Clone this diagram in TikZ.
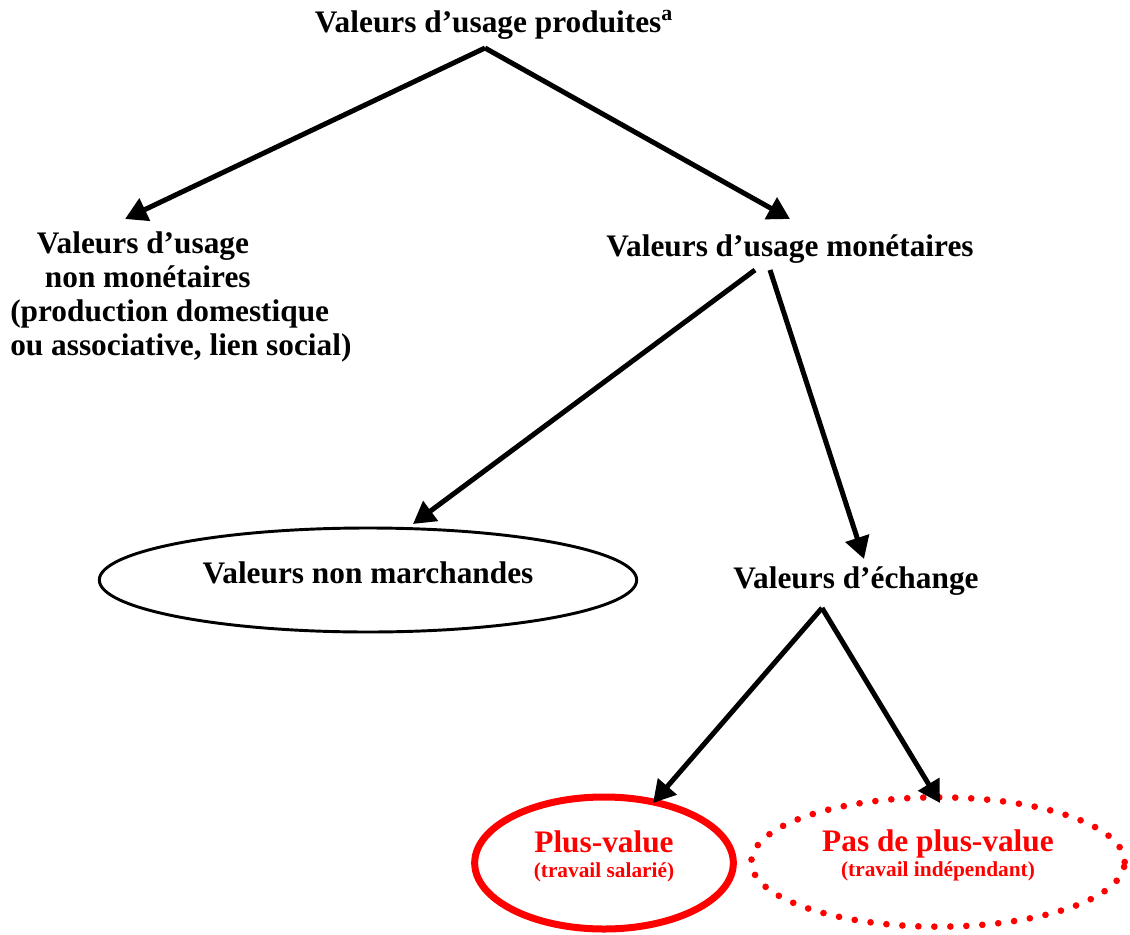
\documentclass[tikz,border=0pt]{standalone}
\usepackage{fontspec}
\setmainfont{Liberation Serif}
\usetikzlibrary{arrows.meta,shapes.geometric}
\begin{document}
\begin{tikzpicture}[x=0.75pt,y=-0.75pt,
  word node/.style={font=\fontsize{23.5}{25.5}\selectfont\bfseries,inner sep=0pt},
  oval node/.style={word node,ellipse,draw,align=center},
  red node/.style={oval node,red,text height=35pt,text depth=14pt},
  arrow line/.style={line width=3.75pt,-{Triangle[length=16.5pt,width=18pt]}}]

  \useasboundingbox (0,0) rectangle (1130,934);

  \node[word node,anchor=base] (1) at (494,33) {Valeurs d’usage produites\textsuperscript{a}};
  \node[word node,anchor=north west,align=left] (2) at (10,231)
    {\hspace*{20pt}Valeurs d’usage\\ \hspace*{26pt}non monétaires\\ (production domestique\\ ou associative, lien social)};
  \node[word node,anchor=base] (3) at (790,256) {Valeurs d’usage monétaires};
  \node[oval node,line width=2.2pt,minimum width=403pt,minimum height=78pt,
    text height=17pt,text depth=12.5pt] (4) at (368,580) {Valeurs non marchandes};
  \node[word node,anchor=base] (5) at (856,588) {Valeurs d’échange};
  \node[red node,line width=5.25pt,minimum width=194pt,minimum height=99pt] (6) at (604,863)
    {Plus-value\\[-7pt]{\fontsize{16}{18}\selectfont (travail salarié)}};
  \node[red node,line width=5pt,line cap=round,dash pattern=on 0pt off 12pt,
    minimum width=280pt,minimum height=97pt] (7) at (938,862)
    {Pas de plus-value\\[-7pt]{\fontsize{16}{18}\selectfont (travail indépendant)}};

  \path[arrow line]
   ([shift={(-9,15)}]1.base) edge ([shift={(115,-12)}]2.north west)
   ([shift={(-9,15)}]1.base) edge ([shift={(0,-37)}]3.base)
   ([shift={(-35,14)}]3.base) edge ([shift={(45,-56)}]4.center)
   ([shift={(-20,14)}]3.base) edge ([shift={(8,-29)}]5.base)
   ([shift={(-34,20)}]5.base) edge ([shift={(49,-60)}]6.center)
   ([shift={(-34,20)}]5.base) edge ([shift={(2,-59)}]7.center);
\end{tikzpicture}
\end{document}
